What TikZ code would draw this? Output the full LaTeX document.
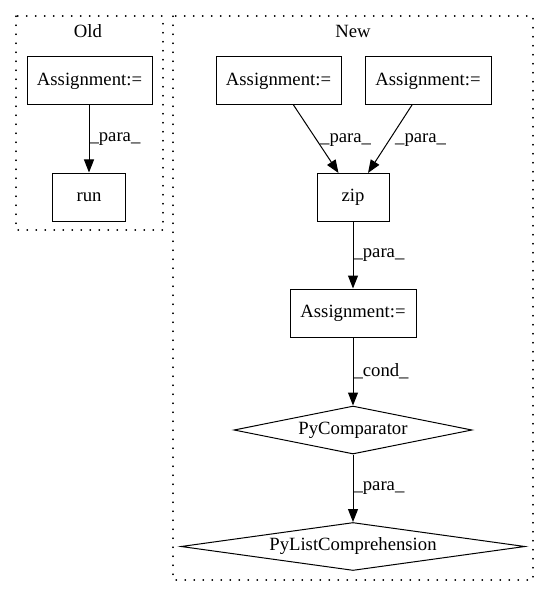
\documentclass[tikz,border=0pt]{standalone}
\usepackage{fontspec}
\setmainfont{Liberation Serif}
\usetikzlibrary{shapes.geometric,arrows.meta}
\begin{document}
\begin{tikzpicture}[x=1pt,y=-1pt,
  every node/.style={font=\fontsize{18.7}{22}\selectfont},
  box/.style={draw, line width=1pt, rectangle, inner sep=0pt, minimum height=48pt},
  dia/.style={draw, line width=1pt, diamond, aspect=6, inner sep=0pt, minimum height=48pt},
  cluster/.style={draw, line width=1.1pt, line cap=round, dash pattern=on 0.6pt off 8.4pt},
  edge/.style={line width=1pt, -{Triangle[length=13pt,width=10pt]}},
  elab/.style={anchor=west, inner sep=0pt}]
\useasboundingbox (0,0) rectangle (549,596);
% clusters
\draw[cluster] (16,16) rectangle (163,230);
\node (oldlab) at (88,31) {Old};
\draw[cluster] (173,16) rectangle (533,580);
\node (newlab) at (353,31) {New};
% Old
\node[box, minimum width=125pt] (oa) at (89.5,81) {Assignment:=};
\node[box, minimum width=73pt] (run) at (89,197) {run};
\draw[edge] (oa.south -| run) -- (run.north) node[elab, pos=0.5] {\_para\_};
% New
\node[box, minimum width=125pt] (na1) at (278.5,81) {Assignment:=};
\node[box, minimum width=126pt] (na2) at (428,81) {Assignment:=};
\node[box, minimum width=72pt] (zip) at (353,197) {zip};
\node[box, minimum width=126pt] (na3) at (353,313) {Assignment:=};
\node[dia, minimum width=238pt] (pc) at (353,430) {PyComparator};
\node[dia, minimum width=344pt] (plc) at (353,546.5) {PyListComprehension};
\coordinate (e1s) at (293.5,105);
\coordinate (e1t) at (338.5,173);
\coordinate (e2s) at (412,105);
\coordinate (e2t) at (368,173);
\draw[edge] (e1s) -- (e1t);
\draw[edge] (e2s) -- (e2t);
\node[elab] (l1) at (320,140) {\_para\_};
\node[elab] (l2) at (395,140) {\_para\_};
\draw[edge] (zip) -- (na3) node[elab, pos=0.5] {\_para\_};
\draw[edge] (na3) -- (pc.north) node[elab, pos=0.5] {\_cond\_};
\draw[edge] (pc) -- (plc.north) node[elab, pos=0.5] {\_para\_};
\end{tikzpicture}
\end{document}
